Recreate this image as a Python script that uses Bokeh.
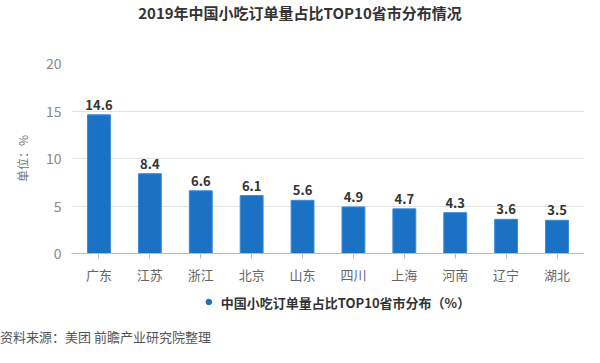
from bokeh.plotting import figure
from bokeh.models import (ColumnDataSource, FactorRange, Range1d, FixedTicker, LabelSet,
                          Legend, LegendItem, Div)
from bokeh.layouts import column
from bokeh.core.properties import value
from bokeh.embed import file_html
from bokeh.resources import INLINE

provinces = ["广东", "江苏", "浙江", "北京", "山东", "四川", "上海", "河南", "辽宁", "湖北"]
shares = [14.6, 8.4, 6.6, 6.1, 5.6, 4.9, 4.7, 4.3, 3.6, 3.5]
y_ticks = [0, 5, 10, 15, 20]

title_text = "2019年中国小吃订单量占比TOP10省市分布情况"
series_name = "中国小吃订单量占比TOP10省市分布（%）"
source_text = "资料来源：美团 前瞻产业研究院整理"
unit_text = "单位：%"

FONT = "Noto Sans CJK SC"
BAR = "#1b72c4"

src = ColumnDataSource(dict(x=provinces, y=shares, lab=[f"{v}" for v in shares]))

title = Div(text=title_text, width=600, height=26, margin=0,
            styles={"text-align": "center", "font-family": FONT, "font-size": "15px",
                    "font-weight": "bold", "color": "#333333", "width": "600px",
                    "line-height": "26px", "white-space": "nowrap"})

p = figure(x_range=FactorRange(*provinces, range_padding=0.008), y_range=Range1d(0, 20),
           frame_width=513, frame_height=190, output_backend="svg", toolbar_location=None,
           min_border_left=71, min_border_right=0, min_border_top=37, min_border_bottom=29)
p.outline_line_color = None

bars = p.vbar(x="x", top="y", width=0.45, source=src, fill_color=BAR, line_color="#3f8ad6",
              line_width=1)

labels = LabelSet(x="x", y="y", text="lab", source=src, text_align="center",
                  text_baseline="bottom", y_offset=5, text_font=value(FONT),
                  text_font_size=value("13px"), text_font_style="bold", text_color="#333333")
p.add_layout(labels)

p.yaxis.ticker = FixedTicker(ticks=y_ticks)
p.yaxis.axis_line_color = None
p.yaxis.major_tick_line_color = None
p.yaxis.major_tick_out = 0
p.yaxis.major_tick_in = 0
p.yaxis.minor_tick_line_color = None
p.yaxis.major_label_standoff = 10
p.yaxis.major_label_text_color = "#888888"
p.yaxis.major_label_text_font = FONT
p.yaxis.major_label_text_font_size = "14px"
p.yaxis.axis_label = unit_text
p.yaxis.axis_label_text_font = FONT
p.yaxis.axis_label_text_font_size = "12px"
p.yaxis.axis_label_text_font_style = "normal"
p.yaxis.axis_label_text_color = "#777777"
p.yaxis.axis_label_standoff = 12

p.xaxis.axis_line_color = "#bbbbbb"
p.xaxis.major_tick_line_color = "#bbbbbb"
p.xaxis.major_tick_out = 5
p.xaxis.major_tick_in = 0
p.xaxis.major_label_text_color = "#666666"
p.xaxis.major_label_text_font = FONT
p.xaxis.major_label_text_font_size = "13px"
p.xaxis.major_label_standoff = 6

p.xgrid.grid_line_color = None
p.ygrid.grid_line_color = "#e3e3e3"

# legend strip: the proxy renderer's points lie above this strip's 0-1 range, so only
# the legend's dot is seen
p2 = figure(width=600, height=41, x_range=FactorRange(*provinces), y_range=Range1d(0, 1),
            x_axis_type=None, y_axis_type=None, output_backend="svg", toolbar_location=None,
            min_border_left=0, min_border_right=0, min_border_top=0, min_border_bottom=10)
p2.outline_line_color = None
p2.grid.visible = False
dot = p2.scatter(x="x", y="y", source=src, marker="circle", size=12,
                 fill_color=BAR, line_color=BAR)
legend = Legend(items=[LegendItem(label=series_name, renderers=[dot])],
                orientation="horizontal", location="center",
                label_text_font=FONT, label_text_font_size="13px",
                label_text_font_style="bold", label_text_color="#333333",
                border_line_color=None, background_fill_alpha=0,
                glyph_width=14, glyph_height=14, margin=0, padding=2, label_standoff=6)
p2.add_layout(legend)

source = Div(text=source_text, width=600, height=20, margin=0,
             styles={"font-family": FONT, "font-size": "13px", "color": "#555555",
                     "line-height": "20px", "white-space": "nowrap"})

layout = column(title, p, p2, source, spacing=0)
open("out.html", "w").write(file_html(layout, INLINE))
